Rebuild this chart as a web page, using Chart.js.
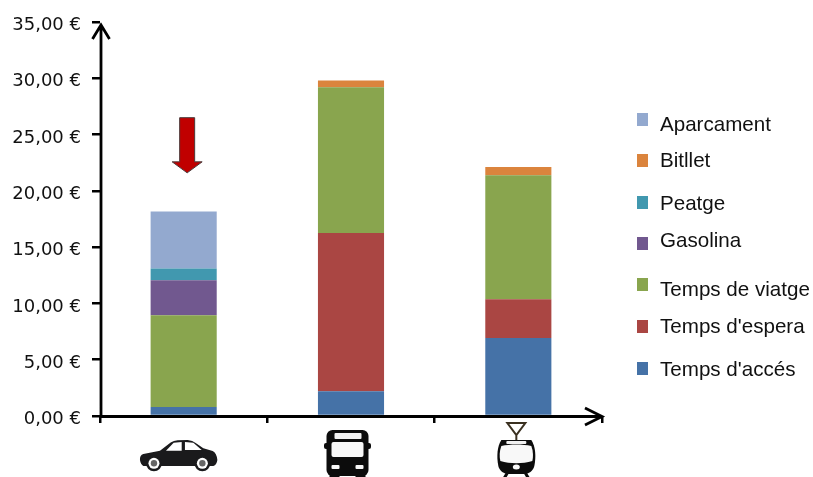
<!DOCTYPE html>
<html>
<head>
<meta charset="utf-8">
<title>Cost per mode de transport</title>
<script src="https://cdn.jsdelivr.net/npm/chart.js@4"></script>
<style>
  html, body { margin: 0; padding: 0; background: #fff; }
  #wrap { position: relative; width: 813px; height: 477px; overflow: hidden; }
  #legend-box span { position: absolute; }
  .swatch { width: 11px; height: 13px; left: 637px; }
  .label {
    left: 660px;
    font: 21px "Liberation Sans", Arial, sans-serif;
    color: #111;
    white-space: nowrap;
    transform-origin: left center;
    transform: scaleX(0.98);
    line-height: 24px;
  }
</style>
</head>
<body>
<div id="wrap">
  <canvas id="cost-chart" width="813" height="477"></canvas>
  <div id="legend-box"></div>
</div>
<script>
// modes on the x axis (drawn as icons)
const modes = ['Cotxe', 'Autobús', 'Tramvia'];
const yTicks = [0, 5, 10, 15, 20, 25, 30, 35];

// euros per trip, bottom of the stack first
const tempsAcces = [0.8, 2.2, 6.93];
const tempsEspera = [null, 14.05, 3.45];
const tempsViatge = [8.15, 12.95, 11.0];
const gasolina = [3.1, null, null];
const peatge = [1.06, null, null];
const bitllet = [null, 0.6, 0.75];
const aparcament = [5.06, null, null];

const seriesNames = ["Temps d'accés", "Temps d'espera", 'Temps de viatge', 'Gasolina', 'Peatge', 'Bitllet', 'Aparcament'];
const seriesValues = [tempsAcces, tempsEspera, tempsViatge, gasolina, peatge, bitllet, aparcament];
const seriesColors = ['#4572A7', '#AA4643', '#89A54E', '#71588F', '#4198AF', '#DB843D', '#93A9CF'];

// legend rows are not evenly spaced, so each one has its own y
const legendRows = [
  { name: 'Aparcament', boxY: 113, textY: 124 },
  { name: 'Bitllet', boxY: 154, textY: 160 },
  { name: 'Peatge', boxY: 196, textY: 203 },
  { name: 'Gasolina', boxY: 237, textY: 240 },
  { name: 'Temps de viatge', boxY: 278, textY: 289 },
  { name: "Temps d'espera", boxY: 320, textY: 326 },
  { name: "Temps d'accés", boxY: 362, textY: 369 }
];

const legendBox = document.getElementById('legend-box');
legendRows.forEach(row => {
  const box = document.createElement('span');
  box.className = 'swatch';
  box.style.top = row.boxY + 'px';
  box.style.background = seriesColors[seriesNames.indexOf(row.name)];
  legendBox.appendChild(box);

  const text = document.createElement('span');
  text.className = 'label';
  text.style.top = (row.textY - 12) + 'px';
  text.textContent = row.name;
  legendBox.appendChild(text);
});

function roundBox(ctx, x, y, w, h, r, color) {
  ctx.fillStyle = color;
  ctx.beginPath();
  ctx.roundRect(x, y, w, h, r);
  ctx.fill();
}

function poly(ctx, points, color) {
  ctx.fillStyle = color;
  ctx.beginPath();
  points.forEach(([x, y], i) => (i ? ctx.lineTo(x, y) : ctx.moveTo(x, y)));
  ctx.closePath();
  ctx.fill();
}

// icons are drawn around (0,0) = centre of the mode, on the axis line
function drawCar(ctx) {
  const body = '#1a1a1c';
  ctx.fillStyle = body;
  ctx.beginPath();
  ctx.moveTo(-43.7, 44);
  ctx.quadraticCurveTo(-44, 39, -40.3, 38);
  ctx.lineTo(-23.7, 34.7);
  ctx.lineTo(-13, 26.5);
  ctx.quadraticCurveTo(-10, 24.5, -6, 24.3);
  ctx.lineTo(4, 24);
  ctx.quadraticCurveTo(9, 24.3, 12, 27);
  ctx.lineTo(19.7, 32.3);
  ctx.lineTo(29, 35);
  ctx.quadraticCurveTo(33, 37, 33.7, 44);
  ctx.quadraticCurveTo(33, 49, 29.7, 50);
  ctx.lineTo(-40.3, 50);
  ctx.quadraticCurveTo(-43, 48.5, -43.7, 44);
  ctx.fill();
  // windows
  poly(ctx, [[-17.7, 34.7], [-10, 26.7], [-2, 26], [-2, 34.7]], '#fff');
  poly(ctx, [[1.3, 26], [9.7, 26.7], [18, 34], [1.3, 34]], '#fff');
  // wheels
  [-29.7, 18.7].forEach(x => {
    [[8, body], [5.5, '#fff'], [3.2, '#666']].forEach(([r, color]) => {
      ctx.fillStyle = color;
      ctx.beginPath();
      ctx.arc(x, 47.3, r, 0, Math.PI * 2);
      ctx.fill();
    });
  });
}

function drawBus(ctx) {
  const black = '#0c0c0c';
  roundBox(ctx, -23.5, 27, 5, 6, 2, black);
  roundBox(ctx, 18.5, 27, 5, 6, 2, black);
  roundBox(ctx, -21, 14, 42, 46, 6, black);
  roundBox(ctx, -18, 56, 10, 8, 1, black);
  roundBox(ctx, 8, 56, 10, 8, 1, black);
  roundBox(ctx, -13, 17, 27, 6, 1, '#f2f2f2');
  roundBox(ctx, -16, 26, 32, 15, 2, '#f8f8f8');
  roundBox(ctx, -16, 49, 8, 4, 1, '#f8f8f8');
  roundBox(ctx, 8, 49, 8, 4, 1, '#f8f8f8');
}

function drawTram(ctx) {
  const black = '#0c0c0c';
  // pantograph
  ctx.strokeStyle = '#3a3020';
  ctx.lineWidth = 2;
  ctx.beginPath();
  ctx.moveTo(-9, 7);
  ctx.lineTo(9, 7);
  ctx.lineTo(0, 19);
  ctx.closePath();
  ctx.moveTo(0, 19);
  ctx.lineTo(0, 24);
  ctx.stroke();
  // body
  ctx.fillStyle = black;
  ctx.beginPath();
  ctx.moveTo(-15, 24);
  ctx.lineTo(15, 24);
  ctx.bezierCurveTo(19, 30, 20, 40, 18, 50);
  ctx.bezierCurveTo(17, 55, 12, 58, 8, 58);
  ctx.lineTo(-8, 58);
  ctx.bezierCurveTo(-12, 58, -17, 55, -18, 50);
  ctx.bezierCurveTo(-20, 40, -19, 30, -15, 24);
  ctx.fill();
  // feet
  ctx.strokeStyle = black;
  ctx.lineWidth = 3;
  ctx.beginPath();
  ctx.moveTo(-9, 57);
  ctx.lineTo(-12, 62);
  ctx.moveTo(9, 57);
  ctx.lineTo(12, 62);
  ctx.stroke();
  // windscreen
  ctx.fillStyle = '#f8f8f8';
  ctx.beginPath();
  ctx.moveTo(-15, 30);
  ctx.bezierCurveTo(-6, 28, 6, 28, 15, 30);
  ctx.bezierCurveTo(17, 35, 17, 41, 16, 45);
  ctx.bezierCurveTo(6, 48, -6, 48, -16, 45);
  ctx.bezierCurveTo(-17, 41, -17, 35, -15, 30);
  ctx.fill();
  roundBox(ctx, -10, 25, 20, 3, 1, '#f0f0f0');
  ctx.fillStyle = '#f8f8f8';
  ctx.beginPath();
  ctx.ellipse(0, 51, 3.5, 2.5, 0, 0, Math.PI * 2);
  ctx.fill();
}

const modeIcons = [
  { draw: drawCar, shift: 0 },
  { draw: drawBus, shift: -3.5 },
  { draw: drawTram, shift: -2 }
];

// arrow heads on both axes, mode icons below the x axis, red marker over the car
const decorations = {
  id: 'decorations',
  afterDraw(chart) {
    const { ctx, chartArea, scales } = chart;
    const { left, right, top, bottom } = chartArea;
    const axisX = left + 1;
    const axisY = bottom + 0.5;
    ctx.save();

    ctx.strokeStyle = '#000';
    ctx.lineWidth = 2.8;
    ctx.lineJoin = 'miter';
    ctx.beginPath();
    ctx.moveTo(axisX, axisY);
    ctx.lineTo(axisX, top + 3);
    ctx.moveTo(axisX - 8.5, top + 17);
    ctx.lineTo(axisX, top + 3);
    ctx.lineTo(axisX + 8.5, top + 17);
    ctx.moveTo(axisX, axisY);
    ctx.lineTo(right, axisY);
    ctx.moveTo(right - 17, axisY - 8.5);
    ctx.lineTo(right, axisY);
    ctx.lineTo(right - 17, axisY + 8.5);
    ctx.stroke();

    modeIcons.forEach((icon, i) => {
      ctx.save();
      ctx.translate(scales.x.getPixelForValue(i) + icon.shift, bottom);
      icon.draw(ctx);
      ctx.restore();
    });

    // red arrow pointing at the car stack
    const ax = scales.x.getPixelForValue(0) + 3.5;
    const ayTop = scales.y.getPixelForValue(26.5);
    const ayTip = scales.y.getPixelForValue(21.6);
    ctx.fillStyle = '#C00000';
    ctx.strokeStyle = '#4a3a3a';
    ctx.lineWidth = 1;
    ctx.beginPath();
    ctx.moveTo(ax - 7.5, ayTop);
    ctx.lineTo(ax + 7.5, ayTop);
    ctx.lineTo(ax + 7.5, ayTip - 11);
    ctx.lineTo(ax + 15, ayTip - 11);
    ctx.lineTo(ax, ayTip);
    ctx.lineTo(ax - 15, ayTip - 11);
    ctx.lineTo(ax - 7.5, ayTip - 11);
    ctx.closePath();
    ctx.fill();
    ctx.stroke();

    ctx.restore();
  }
};

new Chart(document.getElementById('cost-chart'), {
  type: 'bar',
  data: {
    labels: modes,
    datasets: seriesNames.map((name, i) => ({
      label: name,
      data: seriesValues[i],
      backgroundColor: seriesColors[i],
      barPercentage: 0.395,
      categoryPercentage: 1
    }))
  },
  options: {
    responsive: false,
    animation: false,
    layout: { padding: { top: 22, right: 211, bottom: 61, left: 0 } },
    plugins: {
      legend: { display: false },
      tooltip: { enabled: false }
    },
    scales: {
      x: {
        stacked: true,
        border: { display: false },
        grid: { drawOnChartArea: false, color: '#000', lineWidth: 2.5, tickLength: 7, offset: true },
        ticks: { display: false },
        afterFit(scale) { scale.height = 0; }
      },
      y: {
        stacked: true,
        min: 0,
        max: 35,
        afterFit(scale) { scale.width = 100; },
        afterBuildTicks(scale) { scale.ticks = yTicks.map(value => ({ value })); },
        border: { display: false },
        grid: { drawOnChartArea: false, color: '#000', lineWidth: 2.5, tickLength: 8 },
        ticks: {
          color: '#111',
          padding: 11,
          font: { family: '"DejaVu Sans", Verdana, sans-serif', size: 18, lineHeight: '7px' },
          // empty first line pushes the label down a little from the tick
          callback: value => ['', value.toFixed(2).replace('.', ',') + ' €']
        }
      }
    }
  },
  plugins: [decorations]
});
</script>
</body>
</html>
